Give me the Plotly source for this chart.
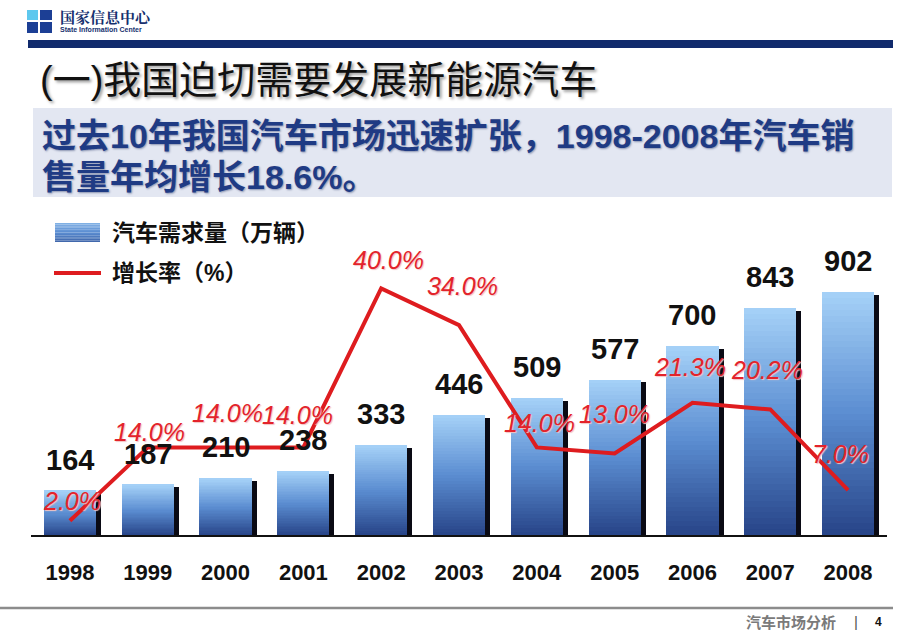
import plotly.graph_objects as go

# data
years = ["1998", "1999", "2000", "2001", "2002", "2003", "2004", "2005", "2006", "2007", "2008"]
demand = [164, 187, 210, 238, 333, 446, 509, 577, 700, 843, 902]          # 万辆
growth = [2.0, 14.0, 14.0, 14.0, 40.0, 34.0, 14.0, 13.0, 21.3, 20.2, 7.0]  # %

title_text = "(一)我国迫切需要发展新能源汽车"
sub_line1 = "过去<b>10</b>年我国汽车市场迅速扩张，<b>1998-2008</b>年汽车销"
sub_line2 = "售量年均增长<b>18.6%</b>。"
legend_bar = "汽车需求量（万辆）"
legend_line = "增长率（%）"

W, H = 920, 637
CJK = "Liberation Sans, Noto Sans CJK SC"

# small nudges for the red % labels (pixels), as placed on the slide
pct_shift = [(2, 20), (2, 15), (2, 34), (-6, 32), (7, 28), (3, 39),
             (3, 24), (0, 40), (-2, 36), (-3, 39), (-8, 36)]


def px(x):
    return x / W


def py(y):
    return 1 - y / H


def mix(t):
    stops = [(0.0, (0x27, 0x44, 0x88)), (0.5, (0x5b, 0x8d, 0xd1)), (1.0, (0xa6, 0xd2, 0xf8))]
    for (t0, c0), (t1, c1) in zip(stops[:-1], stops[1:]):
        if t <= t1:
            f = (t - t0) / (t1 - t0)
            return "rgb(%d,%d,%d)" % tuple(round(a + (b - a) * f) for a, b in zip(c0, c1))
    return "rgb(%d,%d,%d)" % stops[-1][1]


fig = go.Figure()

# gradient bars: each bar is cut in thin slices, dark at the bottom, light at the top
N = 40
bw = 0.67
for k in range(N):
    fig.add_trace(go.Bar(
        x=years, y=[v / N for v in demand], base=[v * k / N for v in demand],
        width=bw, offset=-bw / 2, marker=dict(color=mix((k + 0.5) / N), line=dict(width=0)),
        showlegend=False, hoverinfo="skip"))

# thin dark shadow on the right of each bar
fig.add_trace(go.Bar(
    x=years, y=[v - 10 for v in demand], width=0.065, offset=bw / 2,
    marker=dict(color="#0a0a14", line=dict(width=0)), showlegend=False, hoverinfo="skip"))

# growth line
fig.add_trace(go.Scatter(
    x=years, y=growth, yaxis="y2", mode="lines",
    line=dict(color="#de1c1f", width=4), showlegend=False, hoverinfo="skip"))

ann = []
for i, v in enumerate(demand):
    ann.append(dict(x=i, y=v, xref="x", yref="y", text=str(v), showarrow=False,
                    yshift=31, font=dict(family="Liberation Sans", size=29, color="#111111", weight="bold")))

for i, (g, (dx, dy)) in enumerate(zip(growth, pct_shift)):
    ann.append(dict(x=i, y=g, xref="x", yref="y2", text="%.1f%%" % g, showarrow=False,
                    xshift=dx, yshift=dy,
                    font=dict(family="Liberation Sans", size=25, color="#e3232b", style="italic",
                              shadow="1px 1px 1px #f3c4c4")))

# header
ann.append(dict(x=px(58), y=py(17), xref="paper", yref="paper", xanchor="left", yanchor="middle",
                text="国家信息中心", showarrow=False,
                font=dict(family="Noto Serif CJK SC, Noto Sans CJK SC", size=15, color="#15306e", weight="bold")))
ann.append(dict(x=px(58), y=py(30), xref="paper", yref="paper", xanchor="left", yanchor="middle",
                text="State Information Center", showarrow=False,
                font=dict(family="Liberation Sans", size=7, color="#15306e", weight="bold")))

# title & subtitle
ann.append(dict(x=px(38), y=py(80), xref="paper", yref="paper", xanchor="left", yanchor="middle",
                text=title_text, showarrow=False,
                font=dict(family=CJK, size=38, color="#111111", shadow="2px 2px 3px #9a9a9a")))
ann.append(dict(x=px(40), y=py(136), xref="paper", yref="paper", xanchor="left", yanchor="middle",
                text=sub_line1, showarrow=False,
                font=dict(family=CJK, size=34, color="#1f3b84", weight="bold", shadow="1px 1px 2px #8a93b0")))
ann.append(dict(x=px(40), y=py(177), xref="paper", yref="paper", xanchor="left", yanchor="middle",
                text=sub_line2, showarrow=False,
                font=dict(family=CJK, size=34, color="#1f3b84", weight="bold", shadow="1px 1px 2px #8a93b0")))

# legend
ann.append(dict(x=px(110), y=py(233), xref="paper", yref="paper", xanchor="left", yanchor="middle",
                text=legend_bar, showarrow=False,
                font=dict(family=CJK, size=23, color="#111111", weight="bold")))
ann.append(dict(x=px(110), y=py(273), xref="paper", yref="paper", xanchor="left", yanchor="middle",
                text=legend_line, showarrow=False,
                font=dict(family=CJK, size=23, color="#111111", weight="bold")))

# footer
ann.append(dict(x=px(838), y=py(622), xref="paper", yref="paper", xanchor="right", yanchor="middle",
                text="汽车市场分析", showarrow=False,
                font=dict(family=CJK, size=15, color="#7a7a7a", weight="bold")))
ann.append(dict(x=px(856), y=py(621), xref="paper", yref="paper", xanchor="center", yanchor="middle",
                text="|", showarrow=False, font=dict(family="Liberation Sans", size=15, color="#555555")))
ann.append(dict(x=px(878), y=py(622), xref="paper", yref="paper", xanchor="center", yanchor="middle",
                text="4", showarrow=False,
                font=dict(family="Liberation Sans", size=12, color="#111111", weight="bold")))

shapes = []
# logo
shapes.append(dict(type="rect", xref="paper", yref="paper", x0=px(27), x1=px(52), y0=py(33), y1=py(10),
                    fillcolor="#1c3f95", line=dict(width=0), layer="above"))
shapes.append(dict(type="rect", xref="paper", yref="paper", x0=px(27), x1=px(38), y0=py(20), y1=py(10),
                    fillcolor="#5ec8ee", line=dict(width=0), layer="above"))
shapes.append(dict(type="line", xref="paper", yref="paper", x0=px(39), x1=px(39), y0=py(33), y1=py(10),
                    line=dict(color="white", width=2), layer="above"))
shapes.append(dict(type="line", xref="paper", yref="paper", x0=px(27), x1=px(52), y0=py(21), y1=py(21),
                    line=dict(color="white", width=2), layer="above"))
# navy band
shapes.append(dict(type="rect", xref="paper", yref="paper", x0=px(28), x1=px(893), y0=py(48), y1=py(40),
                    fillcolor="#102a6c", line=dict(width=0), layer="below"))
# subtitle box
shapes.append(dict(type="rect", xref="paper", yref="paper", x0=px(33), x1=px(892), y0=py(197), y1=py(108),
                    fillcolor="#e3e7f2", line=dict(width=0), layer="below"))
# legend swatches
M = 12
for k in range(M):
    t = 1 - k / (M - 1)
    shapes.append(dict(type="rect", xref="paper", yref="paper", x0=px(55), x1=px(100),
                        y0=py(242 - k * 19 / M), y1=py(242 - (k + 1) * 19 / M),
                        fillcolor=mix(0.25 + 0.5 * (1 - t)), line=dict(width=0), layer="above"))
shapes.append(dict(type="line", xref="paper", yref="paper", x0=px(54), x1=px(101), y0=py(273), y1=py(273),
                    line=dict(color="#de1c1f", width=4), layer="above"))
# footer rule
shapes.append(dict(type="line", xref="paper", yref="paper", x0=0, x1=px(893), y0=py(608), y1=py(608),
                    line=dict(color="#8c8c8c", width=2.5), layer="below"))

plot_h = 300.0
fig.update_layout(
    width=W, height=H,
    margin=dict(l=0, r=0, t=0, b=0),
    paper_bgcolor="white", plot_bgcolor="rgba(0,0,0,0)",
    barmode="overlay", bargap=0,
    xaxis=dict(domain=[px(31), px(887)], type="category", range=[-0.5, 10.5],
               showline=True, linecolor="#111111", linewidth=2, showgrid=False, zeroline=False,
               ticks="", ticklabelstandoff=17,
               tickfont=dict(family="Liberation Sans", size=22, color="#111111", weight="bold")),
    yaxis=dict(domain=[py(535), py(535 - plot_h)], range=[0, plot_h / 0.2694],
               visible=False, showgrid=False, zeroline=False),
    yaxis2=dict(overlaying="y", range=[-2 / 6.115, (plot_h - 2) / 6.115],
                visible=False, showgrid=False, zeroline=False),
    annotations=ann, shapes=shapes,
    showlegend=False,
)

# the page body has a default margin; drop it so the figure sits at the window corner
fig.write_html("out.html", config={"displayModeBar": False},
               post_script="document.body.style.margin='0';")
